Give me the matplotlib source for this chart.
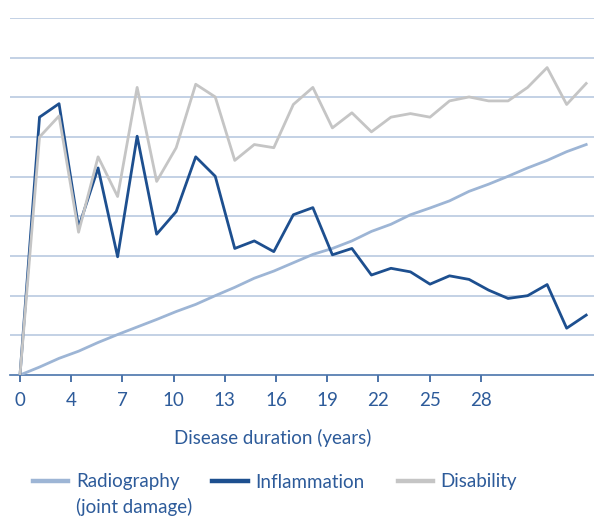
import numpy as np
import matplotlib
matplotlib.use("Agg")
import matplotlib.pyplot as plt

plt.rcParams['font.family'] = ['Lato', 'DejaVu Sans']

# one point per survey year (30 points)
radiography = [0, 0.2, 0.42, 0.6, 0.82, 1.02, 1.21, 1.4, 1.6, 1.78,
               2.0, 2.21, 2.44, 2.62, 2.83, 3.04, 3.19, 3.38, 3.62, 3.8,
               4.04, 4.21, 4.39, 4.63, 4.81, 5.01, 5.22, 5.41, 5.63, 5.81]
inflammation = [0, 6.5, 6.84, 3.72, 5.22, 2.98, 6.02, 3.55, 4.12, 5.5,
                5.01, 3.19, 3.38, 3.11, 4.04, 4.22, 3.03, 3.19, 2.52, 2.69,
                2.6, 2.29, 2.5, 2.41, 2.14, 1.93, 2.0, 2.28, 1.18, 1.51]
disability = [0, 6.0, 6.53, 3.6, 5.5, 4.5, 7.25, 4.88, 5.73, 7.33,
              7.01, 5.41, 5.81, 5.73, 6.82, 7.25, 6.23, 6.61, 6.13, 6.5,
              6.59, 6.5, 6.91, 7.01, 6.91, 6.91, 7.25, 7.75, 6.82, 7.35]
tick_labels = ["0", "4", "7", "10", "13", "16", "19", "22", "25", "28"]

x = np.arange(len(radiography))

c_rad = "#9db5d5"
c_inf = "#1d4f8f"
c_dis = "#c5c5c5"
c_txt = "#2d5b9a"
fs = 13.5

fig = plt.figure(figsize=(5.94, 5.2), dpi=100)
ax = fig.add_axes([10/594, 145/520, 584/594, 357/520])

ax.plot(x, radiography, color=c_rad, lw=2.0, label="Radiography", zorder=3)
ax.plot(x, inflammation, color=c_inf, lw=2.0, label="Inflammation", zorder=4)
ax.plot(x, disability, color=c_dis, lw=2.0, label="Disability", zorder=5)

ax.set_xlim(-0.512, 29.4)
ax.set_ylim(0, 9)
ax.set_yticks(np.arange(1, 10))
ax.yaxis.grid(True, color="#b9cae0", lw=1.2)
ax.set_axisbelow(True)
ax.tick_params(axis="y", left=False, labelleft=False)

ax.set_xticks(np.arange(len(tick_labels)) * 2.623)
ax.set_xticklabels(tick_labels)
ax.tick_params(axis="x", direction="out", length=5, width=1.2, color=c_txt,
               labelcolor=c_txt, labelsize=fs, pad=7)

for s in ["top", "right", "left"]:
    ax.spines[s].set_visible(False)
ax.spines["bottom"].set_color("#4a74ac")
ax.spines["bottom"].set_linewidth(1.2)

ax.set_xlabel("Disease duration (years)", color=c_txt, fontsize=fs)
ax.xaxis.set_label_coords((273 - 10) / 584, -(429 - 375) / 357)

leg = ax.legend(loc="center left", bbox_to_anchor=(8 / 584, -(482 - 375) / 357), ncol=3,
                frameon=False, fontsize=fs, handlelength=1.87,
                handletextpad=0.43, columnspacing=1.75, borderpad=0.3)
for t in leg.get_texts():
    t.set_color(c_txt)
for l in leg.get_lines():
    l.set_linewidth(3.2)

# second line of the first legend label, set under "Radiography"
fig.canvas.draw()
bb = leg.get_texts()[0].get_window_extent().transformed(fig.transFigure.inverted())
fig.text(bb.x0, bb.y0 - 25 / 520, "(joint damage)", color=c_txt, fontsize=fs,
         ha="left", va="bottom")

fig.savefig("out.png", dpi=100)
